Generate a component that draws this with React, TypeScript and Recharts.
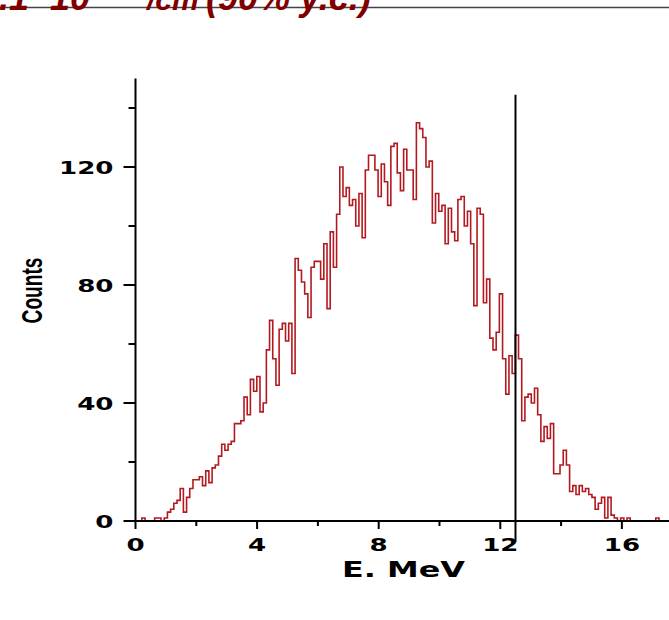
import { Line, LineChart, ReferenceLine, XAxis, YAxis } from "recharts";

// energy spectrum, fixed-width bins from 0 MeV
const BIN_WIDTH = 0.105;
const counts = [
  0, 0, 1, 0, 0, 0, 1, 1, 0, 1,
  3, 4, 6, 7, 11, 3, 8, 11, 14, 14, 15, 12, 17, 13, 18, 19, 22, 26, 24, 26, 27,
  33, 33, 34, 42, 36, 48, 44, 49, 37, 40, 58, 68, 55, 46, 65, 67, 61, 67, 50, 89,
  85, 81, 77, 69, 86, 88, 88, 82, 94, 72, 98, 86,
  104, 120, 110, 113, 107, 109, 100, 111, 96, 119, 124, 124, 119, 110, 121, 115,
  107, 127, 128, 118, 112, 126, 119, 119, 109, 135, 133, 130, 120, 122, 101, 111,
  105, 107, 94, 106, 98, 95, 109, 110, 100, 105, 94, 73, 106, 104, 74, 82, 62, 58,
  64, 77, 55, 43, 56, 50,
  63, 55, 34, 42, 43, 40, 45, 36, 27, 32, 28, 33,
  16, 16, 19, 24, 19, 10, 12, 9, 12, 10, 11, 9, 8, 4, 6, 8, 1, 8, 2, 1,
  0, 1, 0, 1, 0, 0, 0, 0, 0, 0, 0, 0, 1, 0, 0, 0,
];

const xTicks = [0, 2, 4, 6, 8, 10, 12, 14, 16];
const yTicks = [0, 20, 40, 60, 80, 100, 120, 140];
const X_MAX = 17.55;
const Y_MAX = 150;
const E_CUT = 12.5;
const CUT_FROM = -7;
const CUT_TO = 144.5;

const spectrum = counts.map((c, i) => ({ e: +(i * BIN_WIDTH).toFixed(3), c }));
spectrum.push({ e: +(counts.length * BIN_WIDTH).toFixed(3), c: counts[counts.length - 1] });

const tickFont = {
  fontFamily: "DejaVu Sans",
  fontWeight: "bold" as const,
  fontSize: 18,
  fill: "#000",
};

function YTick({ x, y, payload }: any) {
  const major = payload.value % 40 === 0;
  const len = major ? 12 : 7;
  return (
    <g>
      <line x1={x - len} y1={y} x2={x} y2={y} stroke="#000" strokeWidth={2} />
      {major && (
        <text transform={`translate(${x - 22},${y + 6.5}) scale(1.45,1)`} textAnchor="end" {...tickFont}>
          {payload.value}
        </text>
      )}
    </g>
  );
}

function XTick({ x, y, payload }: any) {
  const major = payload.value % 4 === 0;
  const len = major ? 8 : 5;
  return (
    <g>
      <line x1={x} y1={y} x2={x} y2={y + len} stroke="#000" strokeWidth={2} />
      {major && (
        <text transform={`translate(${x},${y + 30}) scale(1.45,1)`} textAnchor="middle" {...tickFont}>
          {payload.value}
        </text>
      )}
    </g>
  );
}

function TopTick({ x, y, payload }: any) {
  const len = payload.value % 4 === 0 ? 7 : 4;
  return <line x1={x} y1={y} x2={x} y2={y - len} stroke="#000" strokeWidth={2} />;
}

export default function App() {
  return (
    <div
      style={{
        position: "absolute",
        left: 0,
        top: 0,
        width: 669,
        height: 620,
        overflow: "hidden",
        background: "#fff",
      }}
    >
      <LineChart
        width={669}
        height={620}
        data={spectrum}
        margin={{ top: 78.5, right: 0, bottom: 0, left: 0 }}
      >
        <XAxis
          xAxisId="top"
          orientation="top"
          type="number"
          dataKey="e"
          domain={[0, X_MAX]}
          ticks={xTicks}
          interval={0}
          height={0}
          tickSize={0}
          tickLine={false}
          tick={TopTick}
          axisLine={{ stroke: "#000", strokeWidth: 2 }}
          allowDataOverflow
        />
        <XAxis
          xAxisId="bottom"
          type="number"
          dataKey="e"
          domain={[0, X_MAX]}
          ticks={xTicks}
          interval={0}
          height={99}
          tickSize={0}
          tickMargin={0}
          tickLine={false}
          tick={XTick}
          axisLine={{ stroke: "#000", strokeWidth: 2 }}
          allowDataOverflow
          label={{
            content: () => (
              <text
                transform="translate(403.5,577) scale(1.45,1)"
                textAnchor="middle"
                fontFamily="DejaVu Sans"
                fontWeight="bold"
                fontSize={22}
                fill="#000"
              >
                E. MeV
              </text>
            ),
          }}
        />
        <YAxis
          type="number"
          domain={[0, Y_MAX]}
          ticks={yTicks}
          interval={0}
          width={135.5}
          tickSize={0}
          tickMargin={0}
          tickLine={false}
          tick={YTick}
          axisLine={{ stroke: "#000", strokeWidth: 2 }}
          allowDataOverflow
          label={{
            content: () => (
              <text
                transform="translate(41.5,290.5) rotate(-90) scale(0.66,1)"
                textAnchor="middle"
                fontFamily="Liberation Sans"
                fontWeight="bold"
                fontSize={29}
                fill="#000"
              >
                Counts
              </text>
            ),
          }}
        />
        <Line
          xAxisId="bottom"
          type="stepAfter"
          dataKey="c"
          stroke="#b31a20"
          strokeWidth={1.6}
          dot={false}
          activeDot={false}
          isAnimationActive={false}
        />
        <ReferenceLine
          xAxisId="bottom"
          segment={[
            { x: E_CUT, y: CUT_FROM },
            { x: E_CUT, y: CUT_TO },
          ]}
          stroke="#000"
          strokeWidth={2}
          ifOverflow="visible"
        />
      </LineChart>
      <svg
        width={669}
        height={30}
        style={{ position: "absolute", left: 0, top: 0, pointerEvents: "none" }}
      >
        <line x1={0} y1={7.5} x2={669} y2={7.5} stroke="#444" strokeWidth={1.5} />
        <text
          y={10}
          fontFamily="Liberation Sans"
          fontWeight="bold"
          fontStyle="italic"
          fontSize={36}
          fill="#800000"
        >
          <tspan x={-21}>4.1 ·</tspan>
          <tspan x={50}>10</tspan>
          <tspan dy={-14} fontSize={24}>-19</tspan>
          <tspan x={147} dy={14} fontSize={30}>/cm</tspan>
          <tspan x={206}>(90% y.c.)</tspan>
        </text>
      </svg>
    </div>
  );
}
